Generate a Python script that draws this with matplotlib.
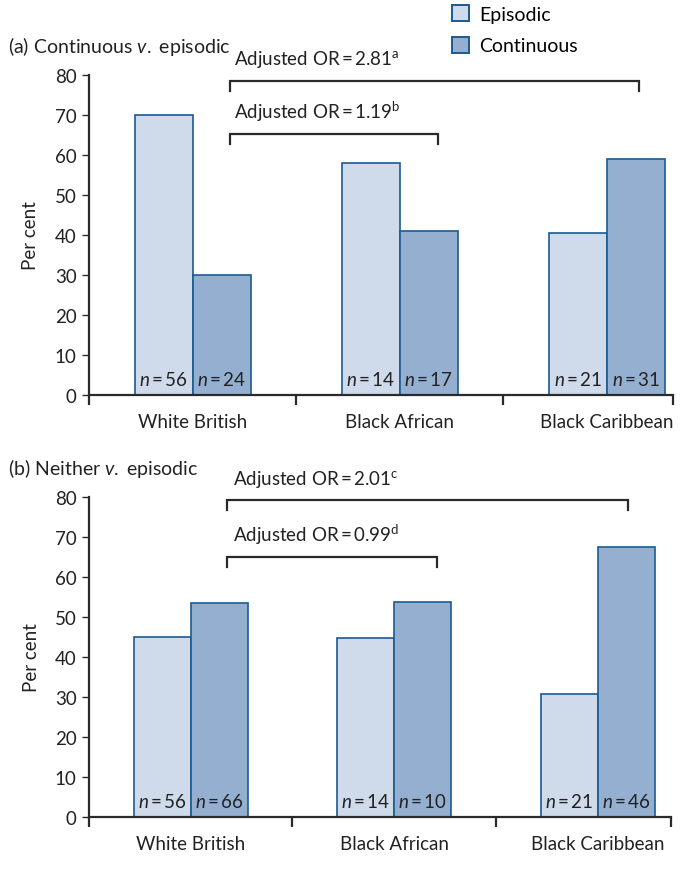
# recreate the two-panel bar chart (continuous / neither v. episodic)
import matplotlib
matplotlib.use('Agg')
import matplotlib.pyplot as plt
from matplotlib.patches import Patch

plt.rcParams['font.family'] = ['Lato', 'DejaVu Sans']
plt.rcParams['mathtext.fontset'] = 'custom'
plt.rcParams['mathtext.rm'] = 'Lato'
plt.rcParams['mathtext.it'] = 'Lato:italic'
plt.rcParams['font.size'] = 13.5

# data
groups = ['White British', 'Black African', 'Black Caribbean']
a_episodic = [70, 58, 40.5]
a_continuous = [30, 41, 59]
a_n_episodic = [56, 14, 21]
a_n_continuous = [24, 17, 31]
b_episodic = [45, 44.7, 30.8]
b_other = [53.5, 53.8, 67.5]
b_n_episodic = [56, 14, 21]
b_n_other = [66, 10, 46]
a_or = ['2.81', '1.19']
a_sup = ['a', 'b']
b_or = ['2.01', '0.99']
b_sup = ['c', 'd']

c_epi = '#cfdbeb'
c_cont = '#95afd1'
c_edge = '#1b5a91'
c_ax = '#2a2a2a'
c_txt = '#222222'
fs = 13.5
ts = '\u2009'  # thin space

fig = plt.figure(figsize=(6.86, 8.70), dpi=100)
ax1 = fig.add_axes([89/686, 1-396/870, 584/686, 320/870])
ax2 = fig.add_axes([89/686, 1-818/870, 582/686, 320/870])

w = 0.28


def draw(ax, epi, oth, n_epi, n_oth, xmax, ors, sups, brackets):
    x = range(len(groups))
    ax.bar([i - w/2 for i in x], epi, w, color=c_epi, edgecolor=c_edge, linewidth=1.2)
    ax.bar([i + w/2 for i in x], oth, w, color=c_cont, edgecolor=c_edge, linewidth=1.2)
    for i in x:
        ax.text(i - w/2, 4, '$n$' + ts + '=' + ts + str(n_epi[i]), ha='center', va='center',
                fontsize=fs, color=c_txt)
        ax.text(i + w/2, 4, '$n$' + ts + '=' + ts + str(n_oth[i]), ha='center', va='center',
                fontsize=fs, color=c_txt)
    ax.set_ylim(0, 80)
    ax.set_xlim(-0.5, xmax)
    ax.set_yticks(range(0, 81, 10))
    ax.set_xticks(list(x))
    ax.set_xticklabels(groups)
    ax.set_xticks([-0.5, 0.5, 1.5, xmax], minor=True)
    ax.tick_params(axis='x', which='major', length=0, pad=13, labelsize=fs, colors=c_txt)
    ax.tick_params(axis='x', which='minor', length=7, width=1.6, color=c_ax, direction='out')
    ax.tick_params(axis='y', length=5, width=1.0, pad=4, labelsize=fs, color=c_ax, labelcolor=c_txt)
    for s in ['top', 'right']:
        ax.spines[s].set_visible(False)
    for s in ['left', 'bottom']:
        ax.spines[s].set_linewidth(1.6)
        ax.spines[s].set_color(c_ax)
    ax.set_ylabel('Per cent', fontsize=fs, color=c_txt)
    ax.yaxis.set_label_coords(-0.085, 0.5)
    # brackets with odds ratios
    for (x0, x1, ytop, ytxt, xt), o, s in zip(brackets, ors, sups):
        ax.plot([x0, x0, x1, x1], [ytop - 2.5, ytop, ytop, ytop - 2.5], color=c_ax,
                linewidth=1.6, clip_on=False, solid_joinstyle='miter')
        ax.text(xt, ytxt, 'Adjusted OR' + ts + '=' + ts + o + '$^{\\mathrm{%s}}$' % s,
                ha='left', va='center', fontsize=fs, color=c_txt, clip_on=False)


draw(ax1, a_episodic, a_continuous, a_n_episodic, a_n_continuous, 2.32, a_or, a_sup,
     [(0.18, 2.155, 78.5, 84.0, 0.2), (0.18, 1.185, 65.25, 71, 0.2)])
draw(ax2, b_episodic, b_other, b_n_episodic, b_n_other, 2.36, b_or, b_sup,
     [(0.18, 2.15, 79.25, 84.5, 0.21), (0.18, 1.21, 65, 70.75, 0.21)])

fig.text(8/686, 1-47/870, '(a) Continuous $\\it{v.}$ episodic', va='center', fontsize=14, color=c_txt)
fig.text(8/686, 1-469/870, '(b) Neither $\\it{v.}$ episodic', va='center', fontsize=14, color=c_txt)

handles = [Patch(facecolor=c_epi, edgecolor=c_edge, linewidth=1.4, label='Episodic'),
           Patch(facecolor=c_cont, edgecolor=c_edge, linewidth=1.4, label='Continuous')]
fig.legend(handles=handles, loc='upper left', bbox_to_anchor=(446/686, 1.0), frameon=False,
           fontsize=14, handlelength=0.9, handleheight=0.9, handletextpad=0.5,
           labelspacing=0.72, borderaxespad=0.0, borderpad=0.3)

plt.savefig('out.png', dpi=100)
